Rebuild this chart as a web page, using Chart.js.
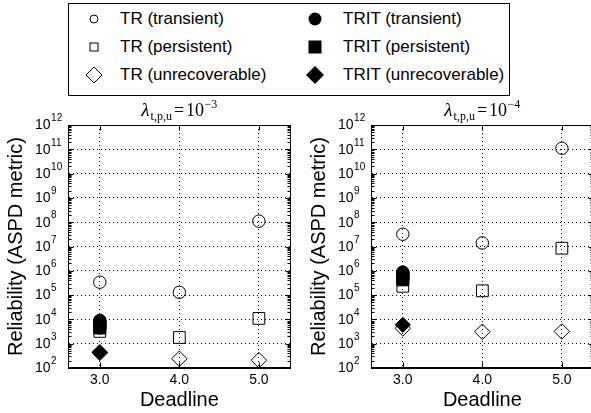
<!DOCTYPE html>
<html>
<head>
<meta charset="utf-8">
<script src="https://cdn.jsdelivr.net/npm/chart.js@4.4.1/dist/chart.umd.min.js"></script>
<style>
  html, body { margin: 0; padding: 0; background: #fff; }
  body { width: 591px; height: 413px; overflow: hidden; position: relative; font-family: "Liberation Sans", Arial, sans-serif; }
  #legendBox { position: absolute; left: 68px; top: 3px; width: 440px; height: 91px; border: 1px solid #000; }
  .mark { position: absolute; width: 20px; height: 20px; }
  .label { position: absolute; height: 20px; line-height: 20px; font-size: 17px; color: #000; white-space: nowrap; }
  canvas { position: absolute; top: 95px; }
</style>
</head>
<body>
<div id="legendBox"></div>
<canvas id="chartA" width="300" height="318" style="left:0px"></canvas>
<canvas id="chartB" width="300" height="318" style="left:303px"></canvas>
<script>
const FONT = '"Liberation Sans", Arial, sans-serif';
const SERIF = '"Liberation Serif", "DejaVu Serif", serif';

// x axis
const deadlines = [3.0, 4.0, 5.0];
const xTickLabels = ['3.0', '4.0', '5.0'];
const tritDeadline = 3.0;
// y axis: powers of ten shown as ticks
const yTickPowers = [2, 3, 4, 5, 6, 7, 8, 9, 10, 11, 12];

// panel titles (lambda exponents)
const panelExponents = ['\u22123', '\u22124'];

// legend
const legendLabels = ['TR (transient)', 'TRIT (transient)', 'TR (persistent)', 'TRIT (persistent)', 'TR (unrecoverable)', 'TRIT (unrecoverable)'];

// panel A: lambda = 1e-3
const trTransientA = [3.4e5, 1.3e5, 1.1e8];
const trPersistentA = [3.2e3, 1.8e3, 1.1e4];
const trUnrecA = [4.2e2, 2.4e2, 2.1e2];
const tritTransientA = [4.5e3, 5.5e3, 6.5e3, 7.7e3, 9.0e3];
const tritPersistentA = [4.4e3, 5.0e3];
const tritUnrecA = [4.5e2];

// panel B: lambda = 1e-4
const trTransientB = [3.2e7, 1.4e7, 1.1e11];
const trPersistentB = [2.3e5, 1.5e5, 8.5e6];
const trUnrecB = [4.3e3, 3.1e3, 3.2e3];
const tritTransientB = [4.5e5, 5.5e5, 6.5e5, 7.5e5, 8.8e5];
const tritPersistentB = [4.2e5, 5.0e5];
const tritUnrecB = [6.0e3];

function buildLegend() {
    const shapes = [
        '<circle cx="10" cy="10" r="4" fill="none" stroke="#000"/>',
        '<circle cx="10" cy="10" r="6.5" fill="#000"/>',
        '<rect x="6" y="6" width="8" height="8" fill="none" stroke="#000"/>',
        '<rect x="3.5" y="3.5" width="13" height="13" fill="#000"/>',
        '<polygon points="10,2 18,10 10,18 2,10" fill="none" stroke="#000"/>',
        '<polygon points="10,1 19,10 10,19 1,10" fill="#000"/>'
    ];
    const rowY = [19, 47, 75];
    const colX = [94, 315];
    const textX = [120, 343];
    legendLabels.forEach((label, i) => {
        const row = Math.floor(i / 2), col = i % 2;
        const mark = document.createElement('div');
        mark.className = 'mark';
        mark.style.left = (colX[col] - 10) + 'px';
        mark.style.top = (rowY[row] - 10) + 'px';
        mark.innerHTML = `<svg width="20" height="20">${shapes[i]}</svg>`;
        document.body.appendChild(mark);

        const text = document.createElement('div');
        text.className = 'label';
        text.style.left = textX[col] + 'px';
        text.style.top = (rowY[row] - 10) + 'px';
        text.textContent = label;
        document.body.appendChild(text);
    });
}

function drawTitle(ctx, cx, base, exp) {
    const parts = [
        { text: '\u03bb', font: 'italic 19px ' + SERIF, dy: 0, gap: 0 },
        { text: 't,p,u', font: '12px ' + SERIF, dy: 4, gap: 1 },
        { text: '=', font: '18px ' + SERIF, dy: 0, gap: 2 },
        { text: '10', font: '18px ' + SERIF, dy: 0, gap: 2 },
        { text: exp, font: '12px ' + SERIF, dy: -8, gap: 0.5 }
    ];
    let total = 0;
    parts.forEach(p => { ctx.font = p.font; p.w = ctx.measureText(p.text).width; total += p.gap + p.w; });
    let x = cx - total / 2;
    ctx.textAlign = 'left';
    ctx.textBaseline = 'alphabetic';
    parts.forEach(p => {
        x += p.gap;
        ctx.font = p.font;
        ctx.fillText(p.text, x, base + p.dy);
        x += p.w;
    });
}

const decor = {
    id: 'decor',
    afterDraw(chart, args, opts) {
        const { ctx, chartArea: a } = chart;
        const xs = chart.scales.x, ys = chart.scales.y;
        const L = Math.round(a.left) + 0.5, R = Math.round(a.right) - 0.5;
        const T = Math.round(a.top) + 0.5, B = Math.round(a.bottom) - 0.5;
        ctx.save();
        ctx.strokeStyle = '#000';
        ctx.lineWidth = 1;
        ctx.strokeRect(L, T, R - L, B - T);
        ctx.beginPath();
        yTickPowers.forEach((p, i) => {
            const py = Math.round(ys.getPixelForValue(Math.pow(10, p))) + 0.5;
            ctx.moveTo(L, py); ctx.lineTo(L + 5, py);
            ctx.moveTo(R, py); ctx.lineTo(R - 5, py);
            if (i < yTickPowers.length - 1) {
                for (let k = 2; k <= 9; k++) {
                    const my = Math.round(ys.getPixelForValue(k * Math.pow(10, p))) + 0.5;
                    ctx.moveTo(L, my); ctx.lineTo(L + 3, my);
                    ctx.moveTo(R, my); ctx.lineTo(R - 3, my);
                }
            }
        });
        deadlines.forEach(v => {
            const px = Math.round(xs.getPixelForValue(v)) + 0.5;
            ctx.moveTo(px, B); ctx.lineTo(px, B - 5);
            ctx.moveTo(px, T); ctx.lineTo(px, T + 5);
        });
        ctx.stroke();

        ctx.fillStyle = '#000';
        ctx.textAlign = 'left';
        ctx.textBaseline = 'middle';
        yTickPowers.forEach(p => {
            const py = ys.getPixelForValue(Math.pow(10, p));
            const bx = a.left - 33;
            ctx.font = '14px ' + FONT;
            ctx.fillText('10', bx, py + 0.5);
            const w = ctx.measureText('10').width;
            ctx.font = '10px ' + FONT;
            ctx.fillText(String(p), bx + w + 0.5, py - 6.5);
        });

        drawTitle(ctx, (a.left + a.right) / 2, a.top - 9, opts.exp);
        ctx.restore();
    }
};

function points(xs, ys) {
    return ys.map((v, i) => ({ x: xs[i], y: v }));
}

function tritPoints(ys) {
    return ys.map(v => ({ x: tritDeadline, y: v }));
}

function makeDataset(data, style, radius, filled) {
    return {
        data: data,
        pointStyle: style,
        pointRadius: radius,
        pointHoverRadius: radius,
        backgroundColor: filled ? '#000' : 'rgba(0,0,0,0)',
        borderColor: '#000',
        borderWidth: 1,
        order: filled ? 0 : 1
    };
}

function makeChart(canvasId, s, exp) {
    const ctx = document.getElementById(canvasId).getContext('2d');
    return new Chart(ctx, {
        type: 'scatter',
        data: {
            datasets: [
                makeDataset(tritPoints(s.tritTransient), 'circle', 6.3, true),
                makeDataset(tritPoints(s.tritPersistent), 'rect', 8.3, true),
                makeDataset(tritPoints(s.tritUnrec), 'rectRot', 7.6, true),
                makeDataset(points(deadlines, s.trTransient), 'circle', 6.2, false),
                makeDataset(points(deadlines, s.trPersistent), 'rect', 8.3, false),
                makeDataset(points(deadlines, s.trUnrec), 'rectRot', 7.8, false)
            ]
        },
        options: {
            responsive: false,
            animation: false,
            devicePixelRatio: 1,
            layout: { padding: { top: 30, right: 7, left: 0, bottom: 0 } },
            plugins: {
                legend: { display: false },
                tooltip: { enabled: false },
                decor: { exp: exp }
            },
            scales: {
                x: {
                    type: 'linear',
                    min: 2.6,
                    max: 5.4,
                    afterBuildTicks: scale => { scale.ticks = deadlines.map(v => ({ value: v })); },
                    afterFit: scale => { scale.height = 45; },
                    ticks: {
                        callback: (value, index) => xTickLabels[index],
                        font: { size: 14, family: FONT },
                        color: '#000',
                        padding: 4,
                        maxRotation: 0,
                        autoSkip: false
                    },
                    grid: { color: '#000', lineWidth: 1, drawTicks: false },
                    border: { color: '#000', width: 1, dash: [1, 3] },
                    title: {
                        display: true,
                        text: 'Deadline',
                        font: { size: 20, family: FONT },
                        color: '#000',
                        padding: { top: 0, bottom: 1 }
                    }
                },
                y: {
                    type: 'logarithmic',
                    min: 1e2,
                    max: 1e12,
                    afterBuildTicks: scale => { scale.ticks = yTickPowers.map(p => ({ value: Math.pow(10, p) })); },
                    afterFit: scale => { scale.width = 68; },
                    ticks: { display: false },
                    grid: { color: '#000', lineWidth: 1, drawTicks: false },
                    border: { color: '#000', width: 1, dash: [1, 3] },
                    title: {
                        display: true,
                        text: 'Reliability (ASPD metric)',
                        font: { size: 20, family: FONT },
                        color: '#000',
                        padding: { top: 4, bottom: 0 }
                    }
                }
            }
        },
        plugins: [decor]
    });
}

document.addEventListener('DOMContentLoaded', function () {
    buildLegend();
    makeChart('chartA', {
        trTransient: trTransientA, trPersistent: trPersistentA, trUnrec: trUnrecA,
        tritTransient: tritTransientA, tritPersistent: tritPersistentA, tritUnrec: tritUnrecA
    }, panelExponents[0]);
    makeChart('chartB', {
        trTransient: trTransientB, trPersistent: trPersistentB, trUnrec: trUnrecB,
        tritTransient: tritTransientB, tritPersistent: tritPersistentB, tritUnrec: tritUnrecB
    }, panelExponents[1]);
});
</script>
</body>
</html>
